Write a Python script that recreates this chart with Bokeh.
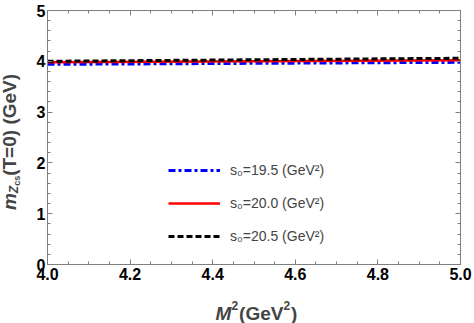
import numpy as np
from bokeh.plotting import figure
from bokeh.layouts import row, column
from bokeh.models import (Range1d, LinearAxis, FixedTicker, Label, Legend,
                          LegendItem, NumeralTickFormatter, CustomJSTickFormatter)
from bokeh.embed import file_html
from bokeh.resources import INLINE

# ---- data ----
m2 = [4.0, 4.25, 4.5, 4.75, 5.0]
mass_s195 = [3.94, 3.95, 3.96, 3.97, 3.98]
mass_s200 = [3.98, 3.99, 4.00, 4.01, 4.02]
mass_s205 = [4.00, 4.015, 4.03, 4.045, 4.06]
series_labels = ["s\u2080=19.5 (GeV\u00b2)", "s\u2080=20.0 (GeV\u00b2)", "s\u2080=20.5 (GeV\u00b2)"]
x_major = [4.0, 4.2, 4.4, 4.6, 4.8, 5.0]
x_minor = [round(4.0 + 0.05 * i, 2) for i in range(21)]
y_major = [0, 1, 2, 3, 4, 5]
y_minor = [round(0.2 * i, 1) for i in range(26)]

FONT = "Liberation Sans"
FRAME = "#808080"
LEFT_W = 28          # strip holding the y title
MAIN_W, MAIN_H = 474 - LEFT_W, 290
BOT_H = 323 - MAIN_H  # strip holding the x title
FRAME_LEFT_IN_MAIN = 47 - LEFT_W

p = figure(width=MAIN_W, height=MAIN_H, output_backend="svg", toolbar_location=None,
           x_range=Range1d(4.0, 5.0), y_range=Range1d(0, 5),
           min_border_left=FRAME_LEFT_IN_MAIN, min_border_right=14, min_border_top=10,
           min_border_bottom=MAIN_H - 264, x_axis_location=None, y_axis_location=None)
p.outline_line_color = FRAME
p.outline_line_width = 1
p.xgrid.visible = False
p.ygrid.visible = False
p.background_fill_color = "white"
p.border_fill_color = "white"

xt = FixedTicker(ticks=x_major, minor_ticks=x_minor)
yt = FixedTicker(ticks=y_major, minor_ticks=y_minor)


def style(ax, show_labels):
    ax.axis_line_color = FRAME
    ax.major_tick_line_color = FRAME
    ax.minor_tick_line_color = FRAME
    ax.major_tick_in = 5
    ax.major_tick_out = 0
    ax.minor_tick_in = 3
    ax.minor_tick_out = 0
    ax.major_label_text_font = FONT
    ax.major_label_text_font_style = "bold"
    ax.major_label_text_color = "black"
    ax.major_label_text_font_size = "16px"
    ax.major_label_standoff = 3 if show_labels else 0


bx = LinearAxis(ticker=xt, formatter=NumeralTickFormatter(format="0.0"))
style(bx, True)
p.add_layout(bx, "below")
ly = LinearAxis(ticker=yt)
style(ly, True)
ly.major_label_standoff = 2
p.add_layout(ly, "left")
tx = LinearAxis(ticker=xt, formatter=CustomJSTickFormatter(code="return ''"))
style(tx, False)
p.add_layout(tx, "above")
ry = LinearAxis(ticker=yt, formatter=CustomJSTickFormatter(code="return ''"))
style(ry, False)
p.add_layout(ry, "right")

r1 = p.line(m2, mass_s195, line_color="#0000ff", line_width=3, line_dash="7 3 3 3")
r2 = p.line(m2, mass_s200, line_color="#ff0000", line_width=2.5)
r3 = p.line(m2, mass_s205, line_color="black", line_width=3, line_dash="6 3")

legend = Legend(items=[LegendItem(label=series_labels[0], renderers=[r1]),
                       LegendItem(label=series_labels[1], renderers=[r2]),
                       LegendItem(label=series_labels[2], renderers=[r3])],
                location=(121, 18), glyph_width=52, glyph_height=20,
                label_height=20, spacing=13, label_standoff=10, padding=0,
                margin=0, border_line_alpha=0, background_fill_alpha=0,
                label_text_font=FONT, label_text_font_size="14px")
p.add_layout(legend, "center")


def strip(w, h):
    f = figure(width=w, height=h, output_backend="svg", toolbar_location=None,
               x_range=Range1d(0, 1), y_range=Range1d(0, 1),
               min_border_left=0, min_border_right=0, min_border_top=0,
               min_border_bottom=0, x_axis_location=None, y_axis_location=None)
    f.outline_line_color = None
    f.xgrid.visible = False
    f.ygrid.visible = False
    f.background_fill_color = "white"
    f.border_fill_color = "white"
    return f


# ---- axis titles built from pieces (approximate Arial Bold widths) ----
W = {'(': .333, ')': .333, 'T': .611, '=': .584, '0': .556, ' ': .278, 'G': .778,
     'e': .556, 'V': .667, 'M': .833, 'm': .889, 'Z': .611, 'c': .556, 's': .556}


def width(t, size):
    return sum(W.get(ch, .556) for ch in t) * size


# x title strip (its frame is aligned with the main frame, which starts at page x=47)
bot = strip(MAIN_W, BOT_H)
xpieces = [("M", 19, "bold italic", 0), ("2", 12, "bold", 8),
           ("(GeV", 19, "bold", 0), ("2", 12, "bold", 8), (")", 19, "bold", 0)]
total = sum(width(t, s) + (1 if s < 14 else 0) for t, s, _, _ in xpieces)
cx = (256 - 47) - total / 2
for t, s, st, rs in xpieces:
    bot.add_layout(Label(x=cx, y=(323 - 313) + rs, x_units="screen", y_units="screen",
                         text=t, text_font=FONT, text_font_size=f"{s}px",
                         text_font_style=st, text_align="left",
                         text_baseline="alphabetic"))
    cx += width(t, s) + (1 if s < 14 else 0)

# y title strip, rotated text reading upward
left = strip(LEFT_W, 323)
ypieces = [("m", 19, "bold italic", 0), ("Z", 12, "bold italic", 4),
           ("cs", 9, "bold", 7), ("(T=0) (GeV)", 19, "bold", 0)]
total = sum(width(t, s) for t, s, _, _ in ypieces)
cy = (323 - 141.5) - total / 2
for t, s, st, sh in ypieces:
    left.add_layout(Label(x=9 + sh, y=cy, x_units="screen", y_units="screen", text=t,
                          angle=np.pi / 2, text_font=FONT, text_font_size=f"{s}px",
                          text_font_style=st, text_align="left",
                          text_baseline="alphabetic"))
    cy += width(t, s)

layout = row(left, column(p, bot, spacing=0), spacing=0)
open("out.html", "w").write(file_html(layout, INLINE))
